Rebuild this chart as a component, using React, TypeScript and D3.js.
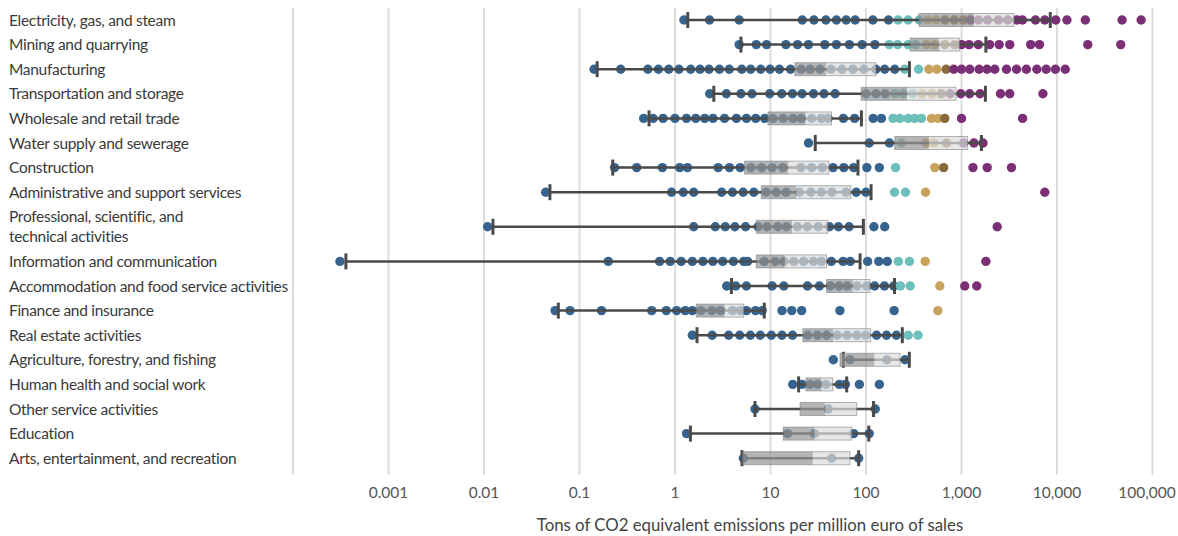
import React, { useEffect } from "react";
import * as d3 from "d3";

// ---------- DATA ----------
const sectors = [
  "Electricity, gas, and steam",
  "Mining and quarrying",
  "Manufacturing",
  "Transportation and storage",
  "Wholesale and retail trade",
  "Water supply and sewerage",
  "Construction",
  "Administrative and support services",
  "Professional, scientific, and\ntechnical activities",
  "Information and communication",
  "Accommodation and food service activities",
  "Finance and insurance",
  "Real estate activities",
  "Agriculture, forestry, and fishing",
  "Human health and social work",
  "Other service activities",
  "Education",
  "Arts, entertainment, and recreation",
];

const electricity = [1.24, 2.3, 4.7, 21.5, 28.5, 38, 49, 62, 77, 118, 172, 217, 276, 360, 440, 540, 670, 840, 1040, 1240, 1500, 1870, 2440, 3050, 3800, 4350, 5950, 7450, 9700, 12700, 19800, 48000, 76000];
const mining = [4.7, 7.1, 9.1, 14.5, 19.2, 25, 37, 49, 67, 91, 124, 175, 215, 276, 330, 430, 525, 668, 850, 1000, 1200, 1500, 1970, 2480, 3200, 5300, 6550, 21000, 46500];
const manufacturing = [0.142, 0.27, 0.52, 0.67, 0.86, 1.1, 1.46, 1.83, 2.27, 2.92, 3.7, 5.0, 6.2, 7.9, 9.9, 12.4, 16.2, 21, 26, 33, 43, 56, 73, 95, 127, 157, 200, 254, 355, 455, 550, 690, 830, 1000, 1220, 1530, 1850, 2230, 2960, 3770, 4780, 6150, 7700, 9620, 12200];
const transportation = [2.31, 3.45, 4.9, 6.4, 9.8, 13.1, 17, 21.4, 28.2, 36.3, 47.5, 100, 127, 159, 201, 243, 307, 387, 489, 615, 760, 984, 1216, 1563, 2560, 3200, 7120];
const wholesale = [0.47, 0.59, 0.75, 1.0, 1.32, 1.65, 2.05, 2.5, 3.3, 4.4, 5.6, 7.0, 8.7, 10.6, 13.6, 17.2, 21, 27, 34, 40, 58, 76, 119, 145, 192, 226, 276, 324, 381, 485, 569, 668, 1000, 4360];
const water = [25, 108, 176, 234, 426, 514, 697, 1050, 1350, 1680];
const construction = [0.233, 0.397, 0.738, 1.12, 1.35, 2.83, 3.72, 4.82, 6.24, 8.07, 10.4, 13.5, 20.8, 27, 34.9, 45.2, 58.5, 74.4, 102, 138, 204, 525, 650, 1318, 1859, 3335];
const administrative = [0.0442, 0.92, 1.22, 1.57, 3.08, 4.0, 5.17, 6.7, 9.0, 11.5, 14.6, 20, 26.5, 34, 44, 62, 79, 100, 199, 259, 420, 7450];
const professional = [0.0109, 1.57, 2.64, 3.36, 4.24, 5.48, 7.41, 9.19, 11.9, 14.7, 19.1, 24.3, 31.5, 41.4, 51.4, 66.5, 121, 157, 2366];
const information = [0.00031, 0.2, 0.69, 0.89, 1.16, 1.52, 1.96, 2.49, 3.16, 4.09, 5.24, 5.76, 8.6, 11.2, 13.8, 17.5, 22.2, 28.2, 34.1, 43.3, 57.5, 68.3, 104, 136, 167, 218, 285, 417, 1800];
const accommodation = [3.48, 4.33, 5.59, 10.4, 13.8, 24.4, 32.5, 42.4, 52.3, 63.4, 80.4, 102, 123, 156, 195, 229, 290, 593, 1082, 1444];
const finance = [0.0555, 0.0796, 0.17, 0.57, 0.81, 1.04, 1.28, 1.52, 1.87, 2.44, 3.01, 4.01, 4.85, 5.6, 6.97, 8.19, 13.2, 16.7, 21.2, 53.3, 197, 565];
const realEstate = [1.52, 2.45, 3.65, 4.76, 6.15, 7.81, 10.2, 13.2, 17, 24.4, 31, 38.6, 49.9, 63.4, 80.4, 100, 129, 164, 208, 277, 351];
const agriculture = [45.5, 68, 166, 256];
const humanHealth = [17.1, 21.4, 25.9, 31.2, 38.1, 52.6, 60.8, 85.2, 138];
const otherServices = [6.88, 40.3, 125];
const education = [1.32, 15.1, 28.8, 74.3, 108];
const arts = [5.2, 43.7, 83.8];

const dotValues = [electricity, mining, manufacturing, transportation, wholesale, water, construction, administrative, professional, information, accommodation, finance, realEstate, agriculture, humanHealth, otherServices, education, arts];

// number of dots (in ascending order) per colour group: blue, teal, gold, dark gold, purple
const tierCounts = [
  [11, 3, 2, 3, 14],
  [11, 4, 2, 2, 10],
  [27, 2, 2, 1, 13],
  [14, 3, 2, 1, 7],
  [24, 5, 2, 1, 2],
  [3, 1, 2, 1, 3],
  [20, 1, 1, 1, 3],
  [18, 2, 1, 0, 1],
  [18, 0, 0, 0, 1],
  [25, 2, 1, 0, 1],
  [15, 2, 1, 0, 2],
  [21, 0, 1, 0, 0],
  [19, 2, 0, 0, 0],
  [4, 0, 0, 0, 0],
  [9, 0, 0, 0, 0],
  [3, 0, 0, 0, 0],
  [5, 0, 0, 0, 0],
  [3, 0, 0, 0, 0],
];

const whiskerLow = [1.36, 4.9, 0.153, 2.55, 0.535, 29.4, 0.223, 0.049, 0.0124, 0.000358, 3.9, 0.06, 1.7, 57.9, 19.7, 6.88, 1.45, 5.03];
const quartile1 = [360, 290, 18, 89, 9.4, 200, 5.35, 8.0, 7.1, 7.1, 38.6, 1.67, 21.8, 53.4, 23.5, 20.4, 13.6, 5.11];
const medianValue = [1350, 585, 38.5, 271, 23.4, 455, 15.4, 18.6, 16.8, 14.1, 73, 3.32, 45.4, 122, 34.3, 37.5, 28.8, 27.7];
const quartile3 = [3550, 950, 127, 875, 43.5, 1160, 40.8, 69.4, 39.7, 38.6, 110, 5.24, 112, 227, 44.8, 79.9, 70.8, 68];
const whiskerHigh = [8500, 1800, 285, 1780, 89.5, 1615, 82.4, 113, 93.8, 86.7, 199, 8.6, 240, 284, 62.8, 120, 107, 83.8];

const gridValues = [1e-4, 1e-3, 1e-2, 1e-1, 1, 10, 100, 1e3, 1e4, 1e5];
const tickValues = [1e-3, 1e-2, 1e-1, 1, 10, 100, 1e3, 1e4, 1e5];
const tickLabels = ["0.001", "0.01", "0.1", "1", "10", "100", "1,000", "10,000", "100,000"];
const axisTitle = "Tons of CO2 equivalent emissions per million euro of sales";

const tierColors = ["#36648e", "#6dbfbc", "#c8a35d", "#87693a", "#7b2f76"];

// ---------- LAYOUT ----------
const W = 1178;
const H = 536;
const FONT = "Lato, 'Liberation Sans', sans-serif";

const x = d3.scaleLog().domain([1e-4, 1e5]).range([293, 1152.5]);

const rowUnit = 24.6;
const lineExtra = 20;
const rowHeights = sectors.map((s) => rowUnit + (s.split("\n").length - 1) * lineExtra);
const rowEnds = Array.from(d3.cumsum(rowHeights));
const rowTop = 20 - rowUnit / 2;
const rowY = rowHeights.map((h, i) => rowTop + rowEnds[i] - h / 2);

export default function App() {
  useEffect(() => {
    document.body.style.margin = "0";
  }, []);

  return (
    <svg width={W} height={H} style={{ display: "block", fontFamily: FONT }}>
      <rect width={W} height={H} fill="#fff" />
      {/* gridlines */}
      {gridValues.map((v) => (
        <line key={v} x1={x(v)} x2={x(v)} y1={8} y2={475} stroke="#dddddd" strokeWidth={2} />
      ))}
      {/* tick labels */}
      {tickValues.map((v, i) => (
        <text key={v} x={Math.min(x(v), W - 31)} y={498} textAnchor="middle" fontSize={15.5} fill="#555">
          {tickLabels[i]}
        </text>
      ))}
      <text x={750} y={531} textAnchor="middle" fontSize={16.8} fill="#444">
        {axisTitle}
      </text>
      {/* row labels */}
      {sectors.map((s, i) => {
        const lines = s.split("\n");
        return (
          <text key={s} x={9} fontSize={15.5} letterSpacing={-0.3} fill="#3a3a3a">
            {lines.map((l, j) => (
              <tspan key={j} x={9} y={rowY[i] + (j - (lines.length - 1) / 2) * 20 + 5.5}>
                {l}
              </tspan>
            ))}
          </text>
        );
      })}
      {/* rows */}
      {dotValues.map((vals, i) => {
        const y = rowY[i];
        const bounds = Array.from(d3.cumsum(tierCounts[i]));
        const tierOf = (k: number) => bounds.findIndex((b) => k < b);
        return (
          <g key={i}>
            {vals.map((v, k) => (
              <circle key={k} cx={x(v)} cy={y} r={4.7} fill={tierColors[Math.max(0, tierOf(k))]} />
            ))}
            <line x1={x(whiskerLow[i])} x2={x(whiskerHigh[i])} y1={y} y2={y} stroke="#4a4a4a" strokeWidth={2.5} />
            <rect x={x(whiskerLow[i]) - 1.5} y={y - 8} width={3} height={16} fill="#4a4a4a" />
            <rect x={x(whiskerHigh[i]) - 1.5} y={y - 8} width={3} height={16} fill="#4a4a4a" />
            <rect x={x(quartile1[i])} y={y - 6.5} width={x(medianValue[i]) - x(quartile1[i])} height={13} fill="rgb(150,150,150)" fillOpacity={0.7} />
            <rect x={x(medianValue[i])} y={y - 6.5} width={x(quartile3[i]) - x(medianValue[i])} height={13} fill="rgb(220,220,220)" fillOpacity={0.7} />
            <rect x={x(quartile1[i])} y={y - 6.5} width={x(quartile3[i]) - x(quartile1[i])} height={13} fill="none" stroke="rgb(110,110,110)" strokeOpacity={0.5} strokeWidth={1} />
          </g>
        );
      })}
    </svg>
  );
}
